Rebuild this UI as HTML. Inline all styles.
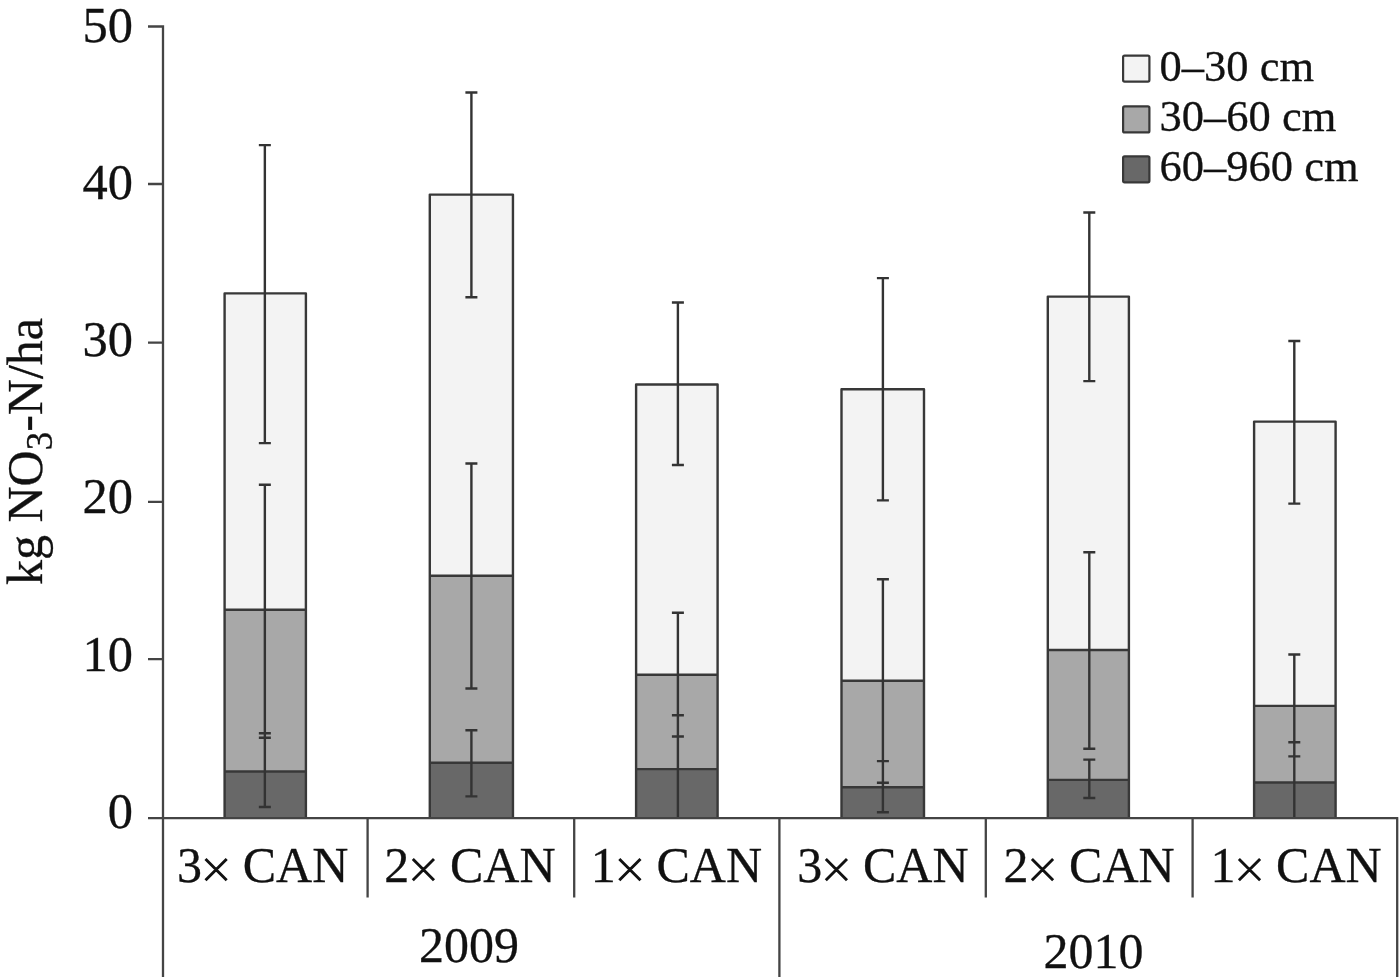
<!DOCTYPE html>
<html><head><meta charset="utf-8"><style>
html,body{margin:0;padding:0;background:#fff;}
body{width:1400px;height:979px;overflow:hidden;}
svg{display:block;will-change:transform;}
text{font-family:"Liberation Serif",serif;fill:#111111;stroke:#111111;stroke-width:0.3px;}
</style></head><body>
<svg width="1400" height="979" viewBox="0 0 1400 979">

<rect x="224.60" y="293.40" width="81.30" height="316.40" fill="#f3f3f3"/>
<rect x="224.60" y="609.80" width="81.30" height="161.70" fill="#a8a8a8"/>
<rect x="224.60" y="771.50" width="81.30" height="46.70" fill="#686868"/>
<path d="M224.60 818.20V293.40H305.90V818.20M224.60 609.80H305.90M224.60 771.50H305.90" fill="none" stroke="#383838" stroke-width="2.4" stroke-linejoin="round"/>
<rect x="429.80" y="194.60" width="83.15" height="381.20" fill="#f3f3f3"/>
<rect x="429.80" y="575.80" width="83.15" height="186.90" fill="#a8a8a8"/>
<rect x="429.80" y="762.70" width="83.15" height="55.50" fill="#686868"/>
<path d="M429.80 818.20V194.60H512.95V818.20M429.80 575.80H512.95M429.80 762.70H512.95" fill="none" stroke="#383838" stroke-width="2.4" stroke-linejoin="round"/>
<rect x="636.10" y="384.50" width="81.50" height="290.20" fill="#f3f3f3"/>
<rect x="636.10" y="674.70" width="81.50" height="94.40" fill="#a8a8a8"/>
<rect x="636.10" y="769.10" width="81.50" height="49.10" fill="#686868"/>
<path d="M636.10 818.20V384.50H717.60V818.20M636.10 674.70H717.60M636.10 769.10H717.60" fill="none" stroke="#383838" stroke-width="2.4" stroke-linejoin="round"/>
<rect x="841.50" y="389.30" width="82.50" height="291.40" fill="#f3f3f3"/>
<rect x="841.50" y="680.70" width="82.50" height="106.60" fill="#a8a8a8"/>
<rect x="841.50" y="787.30" width="82.50" height="30.90" fill="#686868"/>
<path d="M841.50 818.20V389.30H924.00V818.20M841.50 680.70H924.00M841.50 787.30H924.00" fill="none" stroke="#383838" stroke-width="2.4" stroke-linejoin="round"/>
<rect x="1047.80" y="296.60" width="81.10" height="353.40" fill="#f3f3f3"/>
<rect x="1047.80" y="650.00" width="81.10" height="129.90" fill="#a8a8a8"/>
<rect x="1047.80" y="779.90" width="81.10" height="38.30" fill="#686868"/>
<path d="M1047.80 818.20V296.60H1128.90V818.20M1047.80 650.00H1128.90M1047.80 779.90H1128.90" fill="none" stroke="#383838" stroke-width="2.4" stroke-linejoin="round"/>
<rect x="1254.10" y="421.60" width="81.50" height="284.30" fill="#f3f3f3"/>
<rect x="1254.10" y="705.90" width="81.50" height="76.60" fill="#a8a8a8"/>
<rect x="1254.10" y="782.50" width="81.50" height="35.70" fill="#686868"/>
<path d="M1254.10 818.20V421.60H1335.60V818.20M1254.10 705.90H1335.60M1254.10 782.50H1335.60" fill="none" stroke="#383838" stroke-width="2.4" stroke-linejoin="round"/>
<path d="M264.85 145.1V443.1M258.85 145.1H270.85M258.85 443.1H270.85M264.85 484.8V737.8M258.85 484.8H270.85M258.85 737.8H270.85M264.85 733.2V807.0M258.85 733.2H270.85M258.85 807.0H270.85" fill="none" stroke="#333333" stroke-width="2.4"/>
<path d="M471.40 92.5V297.2M465.40 92.5H477.40M465.40 297.2H477.40M471.40 463.5V688.5M465.40 463.5H477.40M465.40 688.5H477.40M471.40 730.2V796.4M465.40 730.2H477.40M465.40 796.4H477.40" fill="none" stroke="#333333" stroke-width="2.4"/>
<path d="M677.90 302.5V465.0M671.90 302.5H683.90M671.90 465.0H683.90M677.90 612.8V736.5M671.90 612.8H683.90M671.90 736.5H683.90M677.90 715.2V818.2M671.90 715.2H683.90" fill="none" stroke="#333333" stroke-width="2.4"/>
<path d="M882.90 278.1V500.4M876.90 278.1H888.90M876.90 500.4H888.90M882.90 579.3V782.7M876.90 579.3H888.90M876.90 782.7H888.90M882.90 761.1V812.2M876.90 761.1H888.90M876.90 812.2H888.90" fill="none" stroke="#333333" stroke-width="2.4"/>
<path d="M1089.30 212.5V381.1M1083.30 212.5H1095.30M1083.30 381.1H1095.30M1089.30 552.3V748.7M1083.30 552.3H1095.30M1083.30 748.7H1095.30M1089.30 759.6V798.0M1083.30 759.6H1095.30M1083.30 798.0H1095.30" fill="none" stroke="#333333" stroke-width="2.4"/>
<path d="M1294.30 341.0V503.6M1288.30 341.0H1300.30M1288.30 503.6H1300.30M1294.30 654.5V756.4M1288.30 654.5H1300.30M1288.30 756.4H1300.30M1294.30 742.2V818.2M1288.30 742.2H1300.30" fill="none" stroke="#333333" stroke-width="2.4"/>
<path d="M163 25.3V977M148 26.5H163M148 184.0H163M148 342.7H163M148 501.8H163M148 659.2H163M148 818.2H1398.3M367.6 818.2V897.5M574.2 818.2V897.5M985.8 818.2V897.5M1192.6 818.2V897.5M779.4 818.2V977M1397.2 818.2V977" fill="none" stroke="#444444" stroke-width="2.3"/>
<text transform="translate(133,41.6) scale(1.0,1.02)" font-size="50.5" text-anchor="end">50</text>
<text transform="translate(133,198.9) scale(1.0,1.02)" font-size="50.5" text-anchor="end">40</text>
<text transform="translate(133,356.2) scale(1.0,1.02)" font-size="50.5" text-anchor="end">30</text>
<text transform="translate(133,513.1) scale(1.0,1.02)" font-size="50.5" text-anchor="end">20</text>
<text transform="translate(133,670.6) scale(1.0,1.02)" font-size="50.5" text-anchor="end">10</text>
<text transform="translate(133,828.2) scale(1.0,1.02)" font-size="50.5" text-anchor="end">0</text>
<text transform="translate(41.5,585) rotate(-90) scale(1,1.0)" font-size="50">kg NO<tspan font-size="37" dy="10">3</tspan><tspan dy="-10">-N/ha</tspan></text>
<text transform="translate(262.6,882.3) scale(1.0,1.02)" font-size="50" text-anchor="middle">3<tspan fill="transparent" stroke="transparent">×</tspan> CAN</text>
<text transform="translate(469.9,882.3) scale(1.0,1.02)" font-size="50" text-anchor="middle">2<tspan fill="transparent" stroke="transparent">×</tspan> CAN</text>
<text transform="translate(676.4,882.3) scale(1.0,1.02)" font-size="50" text-anchor="middle">1<tspan fill="transparent" stroke="transparent">×</tspan> CAN</text>
<text transform="translate(882.9,882.3) scale(1.0,1.02)" font-size="50" text-anchor="middle">3<tspan fill="transparent" stroke="transparent">×</tspan> CAN</text>
<text transform="translate(1089.0,882.3) scale(1.0,1.02)" font-size="50" text-anchor="middle">2<tspan fill="transparent" stroke="transparent">×</tspan> CAN</text>
<text transform="translate(1296.0,882.3) scale(1.0,1.02)" font-size="50" text-anchor="middle">1<tspan fill="transparent" stroke="transparent">×</tspan> CAN</text>
<path d="M205.5 859.0L226.7 880.2M205.5 880.2L226.7 859.0M412.8 859.0L434.0 880.2M412.8 880.2L434.0 859.0M619.3 859.0L640.5 880.2M619.3 880.2L640.5 859.0M825.8 859.0L847.0 880.2M825.8 880.2L847.0 859.0M1031.9 859.0L1053.1 880.2M1031.9 880.2L1053.1 859.0M1238.9 859.0L1260.1 880.2M1238.9 880.2L1260.1 859.0" stroke="#111111" stroke-width="2.9" fill="none"/>
<text transform="translate(469,961.9) scale(1.0,1.03)" font-size="50" text-anchor="middle">2009</text>
<text transform="translate(1093.5,968.3) scale(1.0,1.02)" font-size="50" text-anchor="middle">2010</text>
<rect x="1123.1" y="55.6" width="26.3" height="26" fill="#f3f3f3" rx="1.5" stroke="#383838" stroke-width="2.2"/>
<text transform="translate(1159.5,81.4) scale(1.0,1.0)" font-size="44.5">0–30 cm</text>
<rect x="1123.1" y="106.4" width="26.3" height="26" fill="#a8a8a8" rx="1.5" stroke="#383838" stroke-width="2.2"/>
<text transform="translate(1159.5,130.7) scale(1.0,1.0)" font-size="44.5">30–60 cm</text>
<rect x="1123.1" y="156.3" width="26.3" height="26" fill="#686868" rx="1.5" stroke="#383838" stroke-width="2.2"/>
<text transform="translate(1159.5,181.0) scale(1.0,1.0)" font-size="44.5">60–960 cm</text>
</svg>
</body></html>
